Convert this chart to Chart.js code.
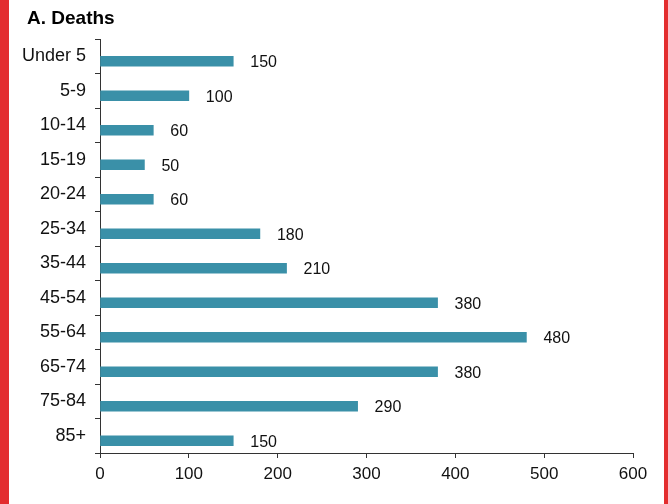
<!DOCTYPE html>
<html>
<head>
<meta charset="utf-8">
<script src="https://cdn.jsdelivr.net/npm/chart.js@4/dist/chart.umd.min.js"></script>
<style>
  html, body { margin: 0; padding: 0; background: #fff; }
  body { width: 668px; height: 504px; box-sizing: border-box; border-left: 9px solid #e32d2f; border-right: 4px solid #e32d2f; overflow: hidden; }
  #wrap { width: 655px; height: 504px; }
</style>
</head>
<body>
<div id="wrap"><canvas id="c" width="655" height="504"></canvas></div>
<script>
"use strict";

const ageGroups = ["Under 5", "5-9", "10-14", "15-19", "20-24", "25-34", "35-44", "45-54", "55-64", "65-74", "75-84", "85+"];
const deaths = [150, 100, 60, 50, 60, 180, 210, 380, 480, 380, 290, 150];
const xTicks = [0, 100, 200, 300, 400, 500, 600];
const titleText = "A. Deaths";

const FONT = "'Liberation Sans', Arial, sans-serif";
const AXIS = "#333";

// value labels to the right of each bar, plus the panel title
const valueLabels = {
  id: "valueLabels",
  afterDatasetsDraw(chart) {
    const ctx = chart.ctx;
    const meta = chart.getDatasetMeta(1);
    ctx.save();
    ctx.font = "16px " + FONT;
    ctx.fillStyle = "#111";
    ctx.textAlign = "left";
    ctx.textBaseline = "middle";
    meta.data.forEach((bar, i) => {
      ctx.fillText(String(deaths[i]), bar.x + 17, bar.y + 1.5);
    });
    ctx.font = "bold 19px " + FONT;
    ctx.fillStyle = "#000";
    ctx.fillText(titleText, 18, 18.5);
    ctx.restore();
  },
};

new Chart(document.getElementById("c"), {
  type: "bar",
  data: {
    labels: ageGroups,
    datasets: [
      // empty spacer so the real bar sits a little below the label
      { label: "", data: [], barThickness: 10 },
      { label: "Deaths", data: deaths, backgroundColor: "#3a90a8", barThickness: 10 },
    ],
  },
  options: {
    indexAxis: "y",
    responsive: false,
    animation: false,
    layout: { padding: { left: 11, right: 31, top: 39, bottom: 0 } },
    plugins: {
      legend: { display: false },
      tooltip: { enabled: false },
      title: { display: false },
    },
    scales: {
      x: {
        min: 0,
        max: 600,
        afterBuildTicks(scale) { scale.ticks = xTicks.map((v) => ({ value: v })); },
        afterFit(scale) { scale.height = 51; },
        border: { display: true, color: AXIS, width: 1 },
        grid: { drawOnChartArea: false, drawTicks: true, tickLength: 5, color: AXIS },
        ticks: { color: "#111", font: { family: FONT, size: 17 }, padding: 6, maxRotation: 0 },
      },
      y: {
        afterFit(scale) { scale.width = 80; },
        border: { display: true, color: AXIS, width: 1 },
        grid: { drawOnChartArea: false, drawTicks: true, tickLength: 5, color: AXIS, offset: true },
        ticks: { color: "#111", font: { family: FONT, size: 18 }, padding: 9 },
      },
    },
  },
  plugins: [valueLabels],
});
</script>
</body>
</html>
